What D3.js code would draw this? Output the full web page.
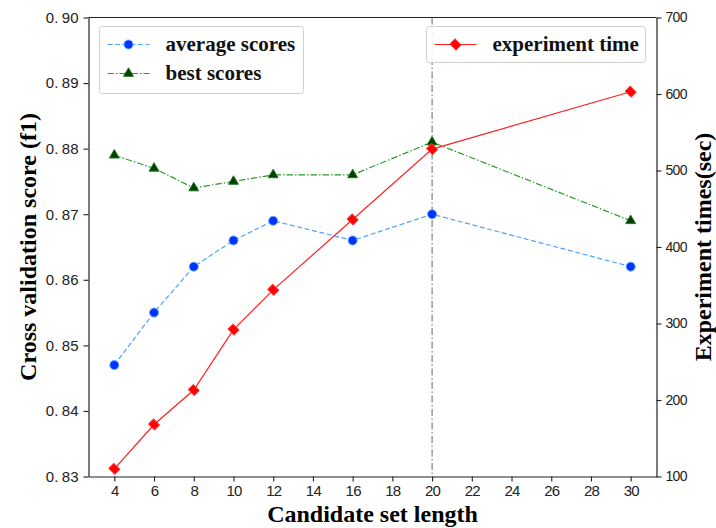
<!DOCTYPE html>
<html>
<head>
<meta charset="utf-8">
<script src="https://cdn.jsdelivr.net/npm/d3@7"></script>
<style>
  html, body { margin: 0; padding: 0; background: #fff; }
  svg { display: block; }
</style>
</head>
<body>
<svg id="chart" width="716" height="528"></svg>
<script>
// Candidate set lengths on the x axis
const lengths = [4, 6, 8, 10, 12, 16, 20, 30];
// Cross-validation f1 scores (left axis)
const averageScores = [0.847, 0.855, 0.862, 0.866, 0.869, 0.866, 0.870, 0.862];
const bestScores    = [0.879, 0.877, 0.874, 0.875, 0.876, 0.876, 0.881, 0.869];
// Experiment time in seconds (right axis)
const experimentTimes = [110, 168, 213, 292, 344, 436, 528, 603];
// Axis ticks
const xTicks = [4, 6, 8, 10, 12, 14, 16, 18, 20, 22, 24, 26, 28, 30];
const leftTicks = [0.83, 0.84, 0.85, 0.86, 0.87, 0.88, 0.89, 0.90];
const rightTicks = [100, 200, 300, 400, 500, 600, 700];
const markedLength = 20;

const svg = d3.select("#chart");
const plot = { left: 88.5, right: 656.5, top: 17.5, bottom: 476.5 };

const x = d3.scaleLinear().domain([2.7, 31.3]).range([plot.left, plot.right]);
const yL = d3.scaleLinear().domain([0.83, 0.90]).range([plot.bottom, plot.top]);
const yR = d3.scaleLinear().domain([100, 700]).range([plot.bottom, plot.top]);

const tickFont = "'Liberation Sans', Arial, sans-serif";
const titleFont = "'Liberation Serif', 'Times New Roman', serif";

// Axes
function styleAxis(g) {
  g.selectAll("path.domain").attr("stroke", "#222").attr("stroke-width", 1.2);
  g.selectAll(".tick line").attr("stroke", "#222").attr("stroke-width", 1.1);
  g.selectAll(".tick text").attr("fill", "#222").attr("font-family", tickFont).attr("font-size", 14);
}

const xAxis = svg.append("g")
  .attr("transform", `translate(0,${plot.bottom})`)
  .call(d3.axisBottom(x).tickValues(xTicks).tickFormat(d3.format("d")).tickSize(5).tickSizeOuter(0).tickPadding(4));
styleAxis(xAxis);
xAxis.selectAll(".tick text").attr("font-size", 15).attr("letter-spacing", -0.8);

const leftAxis = svg.append("g")
  .attr("transform", `translate(${plot.left},0)`)
  .call(d3.axisLeft(yL).tickValues(leftTicks).tickFormat(d3.format(".2f")).tickSize(5).tickSizeOuter(0).tickPadding(5));
styleAxis(leftAxis);
// Wide decimal point: split the label so the fraction sits a little apart
leftAxis.selectAll(".tick text")
  .attr("font-size", 15)
  .text(null)
  .each(function(d) {
    const parts = d3.format(".2f")(d).split(".");
    const t = d3.select(this);
    t.append("tspan").text(parts[0] + ".");
    t.append("tspan").attr("dx", 3.5).text(parts[1]);
  });

const rightAxis = svg.append("g")
  .attr("transform", `translate(${plot.right},0)`)
  .call(d3.axisRight(yR).tickValues(rightTicks).tickFormat(d3.format("d")).tickSize(5).tickSizeOuter(0).tickPadding(4));
styleAxis(rightAxis);
rightAxis.selectAll(".tick text").attr("font-size", 14).attr("letter-spacing", -0.7);

// Top spine
svg.append("line")
  .attr("x1", plot.left).attr("x2", plot.right)
  .attr("y1", plot.top).attr("y2", plot.top)
  .attr("stroke", "#222").attr("stroke-width", 1.2);

// Vertical reference line at the chosen candidate length
svg.append("line")
  .attr("x1", x(markedLength)).attr("x2", x(markedLength))
  .attr("y1", plot.top).attr("y2", plot.bottom)
  .attr("stroke", "#666").attr("stroke-width", 1)
  .attr("stroke-dasharray", "7,2.5,1.5,2.5");

// Series
const series = [
  { values: averageScores, y: yL, line: "#4da3ff", dash: "5,2.6", width: 1.2,
    marker: "circle", fill: "#0033ff", stroke: "#66aaff", size: 64 },
  { values: bestScores, y: yL, line: "#2a9a2a", dash: "6.5,2,1.5,2", width: 1.2,
    marker: "triangle", fill: "#003d00", stroke: "#1a7a1a", size: 42 },
  { values: experimentTimes, y: yR, line: "#ff2020", dash: null, width: 1.2,
    marker: "diamond", fill: "#ff0000", stroke: "#ff3030", size: 70 }
];

const symbolType = {
  circle: d3.symbolCircle,
  triangle: d3.symbolTriangle,
  diamond: d3.symbolSquare
};

function drawMarker(g, s, cx, cy) {
  const sym = g.append("path")
    .attr("d", d3.symbol().type(symbolType[s.marker]).size(s.size)())
    .attr("fill", s.fill)
    .attr("stroke", s.stroke)
    .attr("stroke-width", 1);
  if (s.marker === "diamond") {
    sym.attr("transform", `translate(${cx},${cy}) rotate(45) scale(1,0.85)`);
  } else {
    sym.attr("transform", `translate(${cx},${cy})`);
  }
}

series.forEach(s => {
  const line = d3.line().x((d, i) => x(lengths[i])).y(d => s.y(d));
  svg.append("path")
    .datum(s.values)
    .attr("d", line)
    .attr("fill", "none")
    .attr("stroke", s.line)
    .attr("stroke-width", s.width)
    .attr("stroke-dasharray", s.dash);
  const g = svg.append("g");
  s.values.forEach((v, i) => drawMarker(g, s, x(lengths[i]), s.y(v)));
});

// Axis titles
svg.append("text")
  .attr("transform", `translate(${x((2.7 + 31.3) / 2)},522)`)
  .attr("text-anchor", "middle")
  .attr("font-family", titleFont).attr("font-weight", "bold").attr("font-size", 24)
  .text("Candidate set length");

svg.append("text")
  .attr("transform", `translate(36,${(plot.top + plot.bottom) / 2}) rotate(-90)`)
  .attr("text-anchor", "middle")
  .attr("font-family", titleFont).attr("font-weight", "bold").attr("font-size", 24)
  .text("Cross validation score (f1)");

svg.append("text")
  .attr("transform", `translate(711,${(plot.top + plot.bottom) / 2}) rotate(-90)`)
  .attr("text-anchor", "middle")
  .attr("font-family", titleFont).attr("font-weight", "bold").attr("font-size", 24)
  .text("Experiment times(sec)");

// Legends
function legend(x0, y0, w, h, entries) {
  const g = svg.append("g").attr("transform", `translate(${x0},${y0})`);
  g.append("rect")
    .attr("width", w).attr("height", h).attr("rx", 3)
    .attr("fill", "rgba(255,255,255,0.85)")
    .attr("stroke", "#d0d0d0").attr("stroke-width", 1);
  entries.forEach((e, i) => {
    const cy = 18 + i * 29;
    const s = series[e.series];
    g.append("line")
      .attr("x1", 8).attr("x2", 50).attr("y1", cy).attr("y2", cy)
      .attr("stroke", s.line).attr("stroke-width", s.width)
      .attr("stroke-dasharray", s.dash);
    drawMarker(g, s, 29, cy);
    g.append("text")
      .attr("x", 66).attr("y", cy + 6)
      .attr("font-family", titleFont).attr("font-weight", "bold").attr("font-size", 21)
      .attr("fill", "#111")
      .text(e.label);
  });
}

legend(99.5, 26.5, 204, 67, [
  { series: 0, label: "average scores" },
  { series: 1, label: "best scores" }
]);
legend(426.5, 26.5, 219, 36, [
  { series: 2, label: "experiment time" }
]);
</script>
</body>
</html>
